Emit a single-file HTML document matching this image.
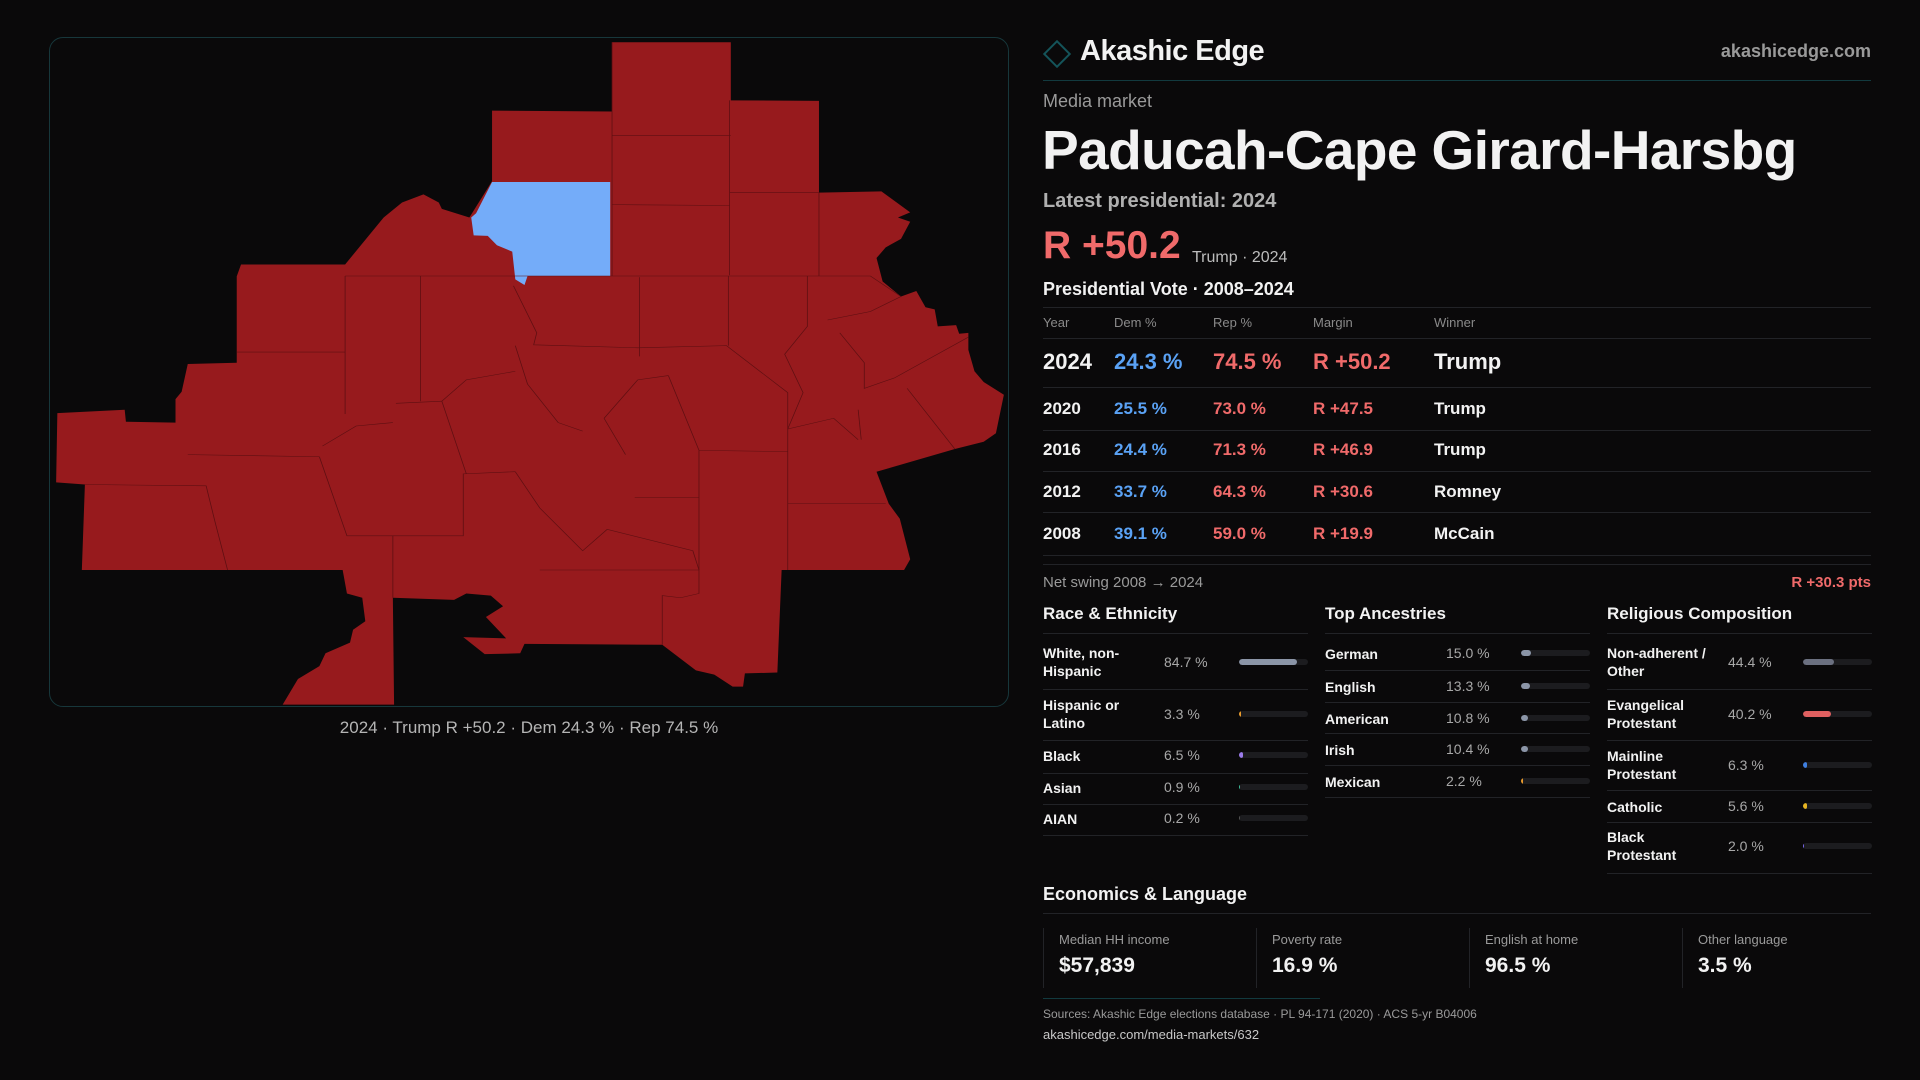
<!DOCTYPE html>
<html><head><meta charset="utf-8">
<style>
*{margin:0;padding:0;box-sizing:border-box}
body{width:1920px;height:1080px;background:#0a090a;font-family:"Liberation Sans",sans-serif;color:#f2f2f2;position:relative;overflow:hidden}
.a{position:absolute;white-space:nowrap}
.ln{position:absolute;height:1px;background:#222327}
.g{color:#9a9a9a}
.dem{color:#5aa2f5}.rep{color:#f06a6a}
</style></head><body>
<div class="a" style="left:49px;top:37px;width:960px;height:670px;border:1px solid #17373b;border-radius:14px;overflow:hidden">
<svg width="960" height="670" viewBox="0 0 1568 1568" preserveAspectRatio="none">
<polygon fill="#971a1d" points="918,10 1112,10 1112,146 1256,147 1256,362 1358,359 1405,408 1385,420 1405,430 1390,470 1365,490 1350,515 1360,570 1390,605 1415,592 1430,630 1445,635 1450,675 1480,672 1485,692 1500,690 1500,730 1510,780 1525,805 1558,835 1545,925 1525,945 1478,962 1350,1015 1370,1090 1388,1125 1405,1220 1395,1245 1195,1245 1188,1485 1135,1487 1132,1518 1115,1518 1085,1490 1055,1480 1000,1420 775,1418 768,1440 710,1442 675,1402 745,1405 712,1355 740,1330 720,1305 680,1300 660,1315 560,1310 562,1560 380,1560 405,1500 440,1470 450,1440 490,1415 495,1385 515,1365 510,1310 485,1300 478,1245 52,1245 57,1045 10,1040 12,878 122,870 124,898 205,900 205,845 215,828 225,763 305,760 305,558 312,530 482,530 545,420 575,385 610,366 635,385 640,400 685,420 722,335 722,170 918,172"/>
<polygon fill="#74acf9" points="722,337 915,337 915,557 780,557 775,578 760,565 755,500 730,485 715,463 692,462 688,420 696,410"/>
<g fill="none" stroke="#5e0f12" stroke-width="1.3">
<polyline points="918,10 918,557"/><polyline points="918,228 1112,228"/><polyline points="918,390 1110,392"/><polyline points="1110,146 1110,555"/><polyline points="1110,362 1256,362"/><polyline points="1256,362 1256,557"/>
<polyline points="482,557 1340,557 1390,605"/><polyline points="305,735 482,735"/><polyline points="482,557 482,880"/><polyline points="605,557 605,850"/>
<polyline points="757,580 795,690 790,718 960,725 1105,720 1205,830 1205,915"/><polyline points="963,560 963,745"/><polyline points="1108,557 1108,720"/><polyline points="1237,557 1237,675 1200,740 1230,830 1205,915"/>
<polyline points="225,975 440,980"/><polyline points="57,1045 255,1048 270,1135 290,1245"/><polyline points="440,980 485,1165 675,1165 675,1020 760,1015"/><polyline points="560,1165 560,1310"/><polyline points="640,850 680,1020"/>
<polyline points="955,1075 1060,1075"/><polyline points="1060,965 1060,1245"/><polyline points="1205,915 1205,1245"/><polyline points="1205,1090 1365,1090"/><polyline points="1060,965 1205,968"/>
<polyline points="800,1245 1060,1245 1060,1300 1030,1310 1000,1305 1000,1420"/><polyline points="1320,870 1325,940"/><polyline points="1380,795 1500,700"/><polyline points="1400,820 1478,962"/>
<polyline points="1010,790 1060,965"/><polyline points="905,890 940,975"/><polyline points="565,855 640,850"/><polyline points="445,955 500,908 560,900"/>
<polyline points="760,720 780,810 830,900 870,920"/><polyline points="760,780 680,800 640,850"/><polyline points="1010,790 960,800 905,890"/><polyline points="1205,915 1280,890 1320,940"/>
<polyline points="760,1015 800,1100 870,1200 910,1150 1050,1200 1060,1245"/><polyline points="1270,660 1340,640 1390,605"/><polyline points="1290,690 1330,760 1330,820 1380,795"/>
</g></svg></div>
<div class="a" style="left:49px;width:960px;text-align:center;top:718px;font-size:17px;color:#b5b5b5">2024 · Trump R +50.2 · Dem 24.3 % · Rep 74.5 %</div>

<div class="a" style="left:1047px;top:44px;width:20px;height:20px;border:2px solid #14545a;transform:rotate(45deg)"></div>
<div class="a" style="left:1080px;top:35px;font-size:29px;font-weight:bold;letter-spacing:-0.5px">Akashic Edge</div>
<div class="a g" style="right:49px;top:41px;font-size:18px;font-weight:bold;color:#9a9a9a">akashicedge.com</div>
<div class="ln" style="left:1043px;width:828px;top:80px;background:#123a3f"></div>
<div class="a g" style="left:1043px;top:91px;font-size:18px">Media market</div>
<div class="a" style="left:1042px;top:118px;font-size:55px;font-weight:bold;letter-spacing:-0.6px">Paducah-Cape Girard-Harsbg</div>
<div class="a" style="left:1043px;top:190px;font-size:20px;font-weight:bold;color:#b0b0b0">Latest presidential: 2024</div>
<div class="a rep" style="left:1043px;top:224px;font-size:39px;font-weight:bold">R +50.2</div>
<div class="a" style="left:1192px;top:249px;font-size:16px;color:#bdbdbd">Trump · 2024</div>
<div class="a" style="left:1043px;top:279px;font-size:18px;font-weight:bold">Presidential Vote · 2008–2024</div>
<div id="ptable"></div>
<div class="a g" style="left:1043px;top:574px;font-size:15px">Net swing 2008 → 2024</div>
<div class="a rep" style="right:49px;top:574px;font-size:15px;font-weight:bold">R +30.3 pts</div>
<div id="demo"></div>
<div class="a" style="left:1043px;top:884px;font-size:18px;font-weight:bold">Economics &amp; Language</div>
<div class="ln" style="left:1043px;width:828px;top:913px"></div>
<div id="econ"></div>
<div class="ln" style="left:1043px;width:277px;top:998px;background:#123a3f"></div>
<div class="a g" style="left:1043px;top:1007px;font-size:12px">Sources: Akashic Edge elections database · PL 94-171 (2020) · ACS 5-yr B04006</div>
<div class="a" style="left:1043px;top:1027px;font-size:13px;color:#c8c8c8">akashicedge.com/media-markets/632</div>
<script>
const years=["2024","2020","2016","2012","2008"];
const demPct=[24.3,25.5,24.4,33.7,39.1];
const repPct=[74.5,73.0,71.3,64.3,59.0];
const winners=["Trump","Trump","Trump","Romney","McCain"];
const raceLabels=["White, non-Hispanic","Hispanic or Latino","Black","Asian","AIAN"];
const raceValues=[84.7,3.3,6.5,0.9,0.2];
const ancLabels=["German","English","American","Irish","Mexican"];
const ancValues=[15.0,13.3,10.8,10.4,2.2];
const relLabels=["Non-adherent / Other","Evangelical Protestant","Mainline Protestant","Catholic","Black Protestant"];
const relValues=[44.4,40.2,6.3,5.6,2.0];
const econLabels=["Median HH income","Poverty rate","English at home","Other language"];
const econValues=["$57,839","16.9 %","96.5 %","3.5 %"];
function div(parent,css,txt,cls){const d=document.createElement('div');d.className='a '+(cls||'');d.style.cssText=css;if(txt!=null)d.textContent=txt;parent.appendChild(d);return d;}
function line(parent,x,y,w,c){const d=document.createElement('div');d.className='ln';d.style.cssText=`left:${x}px;top:${y}px;width:${w}px;`+(c?`background:${c}`:'');parent.appendChild(d);return d;}
const pt=document.getElementById('ptable');
const cols=[1043,1114,1213,1313,1434];
const hdr=["Year","Dem %","Rep %","Margin","Winner"];
line(pt,1043,307,828);
hdr.forEach((h,i)=>{const e=div(pt,`left:${cols[i]}px;top:315px;font-size:13px;color:#8a8a8a`,h);

});
line(pt,1043,338,828);
const rowY=[362,409,450,492,534];const sepY=[387,430,471,512,555];
years.forEach((y,i)=>{
 const fs=i==0?22:17;const t=rowY[i]-fs*0.58;
 const m=(repPct[i]-demPct[i]).toFixed(1);
 const vals=[y,demPct[i].toFixed(1)+' %',repPct[i].toFixed(1)+' %','R +'+m,winners[i]];
 const cl=['','dem','rep','rep',''];
 vals.forEach((v,j)=>{const e=div(pt,`left:${cols[j]}px;top:${t}px;font-size:${fs}px;font-weight:bold`,v,cl[j]);
 
 });
 line(pt,1043,sepY[i],828);
});
line(pt,1043,564,828);
const demo=document.getElementById('demo');
function section(x,title,labels,values,colors,rowYs,sepYs,key){
 const h=div(demo,`left:${x}px;top:604px;font-size:17px;font-weight:bold`,title);
 
 
 line(demo,x,633,265);
 labels.forEach((l,i)=>{
  const two=l.length>12;
  const lab=div(demo,`left:${x}px;top:${rowYs[i]-(two?18:8)}px;font-size:14px;font-weight:bold;white-space:normal;width:${two?106:120}px;line-height:18px`,l);
  
  
  const v=div(demo,`left:${x+121}px;top:${rowYs[i]-8}px;font-size:14px;color:#a8a8a8`,values[i].toFixed(1)+' %');
  
  
  const tr=div(demo,`left:${x+196}px;top:${rowYs[i]-3}px;width:69px;height:6px;border-radius:3px;background:#1c1c1f;overflow:hidden`);
  
  
  const f=document.createElement('div');
  f.style.cssText=`position:absolute;left:0;top:0;height:6px;border-radius:3px;width:${Math.max(69*values[i]/100,1)}px;background:${colors[i]}`;
  
  
  tr.appendChild(f);
  line(demo,x,sepYs[i],265);
 });
}
section(1043,"Race & Ethnicity",raceLabels,raceValues,["#8b95a7","#e89a2d","#9b7bea","#3dbf9a","#555"],[662,714,755,787,818],[689,740,773,804,835],'race');
section(1325,"Top Ancestries",ancLabels,ancValues,["#8b95a7","#8b95a7","#8b95a7","#8b95a7","#e89a2d"],[653,686,718,749,781],[670,702,733,765,797],'ancestry');
section(1607,"Religious Composition",relLabels,relValues,["#6b7080","#e06060","#3f7fe0","#e6b422","#7b68ee"],[662,714,765,806,846],[689,740,790,822,873],'religion');
const ec=document.getElementById('econ');
econLabels.forEach((l,i)=>{
 const x=1043+i*213;
 const c=div(ec,`left:${x}px;top:928px;width:213px;height:60px;border-left:1px solid #222327`);
 
 
 const a=div(ec,`left:${x+16}px;top:932px;font-size:13px;color:#9a9a9a`,l);
 
 
 const b=div(ec,`left:${x+16}px;top:954px;font-size:21px;font-weight:bold`,econValues[i]);
 
 
});
</script>
</body></html>
